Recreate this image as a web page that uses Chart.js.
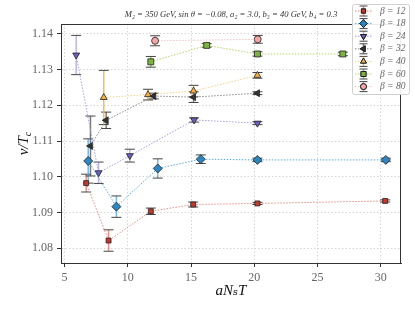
<!DOCTYPE html>
<html>
<head>
<meta charset="utf-8">
<script src="https://cdn.jsdelivr.net/npm/chart.js@4.4.0/dist/chart.umd.min.js"></script>
<style>
  html, body { margin: 0; padding: 0; background: #fff; }
  #wrap { width: 415px; height: 311px; }
</style>
</head>
<body>
<div id="wrap"><canvas id="chart" width="415" height="311"></canvas></div>
<script>
// ================= DATOS =================
const betaLabels = ['12', '18', '24', '32', '40', '60', '80'];

const x12 = [6.71, 8.48, 11.82, 15.17, 20.25, 30.35];
const y12 = [1.0982, 1.0821, 1.0903, 1.0922, 1.0925, 1.0932];
const e12 = [0.0025, 0.0030, 0.0009, 0.0007, 0.0003, 0.0003];

const x18 = [6.87, 9.10, 12.37, 15.77, 20.25, 30.40];
const y18 = [1.1044, 1.0916, 1.1023, 1.1049, 1.1047, 1.1047];
const e18 = [0.0062, 0.0030, 0.0027, 0.0012, 0.0005, 0.0005];

const x24 = [5.92, 7.69, 10.16, 15.24, 20.25];
const y24 = [1.1341, 1.1011, 1.1059, 1.1159, 1.1150];
const e24 = [0.0055, 0.0030, 0.0018, 0.0006, 0.0004];

const x32 = [7.05, 8.29, 12.06, 15.20, 20.25];
const y32 = [1.1086, 1.1158, 1.1226, 1.1223, 1.1234];
const e32 = [0.0084, 0.0023, 0.0008, 0.0015, 0.0004];

const x40 = [8.10, 11.60, 15.20, 20.25];
const y40 = [1.1222, 1.1230, 1.1240, 1.1284];
const e40 = [0.0076, 0.0015, 0.0016, 0.0008];

const x60 = [11.82, 16.24, 20.25, 27.00];
const y60 = [1.1322, 1.1368, 1.1344, 1.1344];
const e60 = [0.0015, 0.0005, 0.0006, 0.0005];

const x80 = [12.16, 20.27];
const y80 = [1.1381, 1.1385];
const e80 = [0.0014, 0.0011];

const xTicks = [5, 10, 15, 20, 25, 30];
const yTicks = [1.08, 1.09, 1.10, 1.11, 1.12, 1.13, 1.14];

// ================= ESTILOS =================
const series = [
  { x: x12, y: y12, e: e12, fill: '#c0392b', line: '#ee8a80', bar: 'rgba(231,100,90,0.7)', style: 'rect', rot: 0, r: 3.5 },
  { x: x18, y: y18, e: e18, fill: '#2e86c1', line: '#5dade2', bar: 'rgba(70,160,220,0.75)', style: 'rectRot', rot: 0, r: 4.5 },
  { x: x24, y: y24, e: e24, fill: '#6c5fc0', line: '#a99ee8', bar: 'rgba(160,150,220,0.7)', style: 'triangle', rot: 180, r: 4 },
  { x: x32, y: y32, e: e32, fill: '#333333', line: '#888888', bar: 'rgba(90,90,90,0.8)', style: 'triangle', rot: 270, r: 4 },
  { x: x40, y: y40, e: e40, fill: '#f5b041', line: '#f9cf8a', bar: 'rgba(245,176,65,0.85)', style: 'triangle', rot: 0, r: 4 },
  { x: x60, y: y60, e: e60, fill: '#7cb342', line: '#b5d56a', bar: 'rgba(124,179,66,0.8)', style: 'rect', rot: 0, r: 4.2 },
  { x: x80, y: y80, e: e80, fill: '#f4a6a6', line: '#f7c4c4', bar: 'rgba(240,150,150,0.8)', style: 'circle', rot: 0, r: 3.5 }
];

const serif = '"Liberation Serif", "DejaVu Serif", serif';

const datasets = series.map((s, i) => ({
  label: 'β = ' + betaLabels[i],
  data: s.x.map((v, k) => ({ x: v, y: s.y[k] })),
  errs: s.e,
  barColor: s.bar,
  showLine: true,
  borderColor: s.line,
  borderWidth: 1,
  borderDash: [1.5, 1.5],
  pointStyle: s.style,
  pointRotation: s.rot,
  pointRadius: s.r,
  pointBackgroundColor: s.fill,
  pointBorderColor: '#222',
  pointBorderWidth: 0.8,
  tension: 0
}));

// ================= PLUGINS =================
const errorBars = {
  id: 'errorBars',
  beforeDatasetsDraw(chart) {
    const ctx = chart.ctx;
    const xs = chart.scales.x, ys = chart.scales.y;
    ctx.save();
    chart.data.datasets.forEach(ds => {
      ds.data.forEach((p, k) => {
        const px = xs.getPixelForValue(p.x);
        const top = ys.getPixelForValue(p.y + ds.errs[k]);
        const bot = ys.getPixelForValue(p.y - ds.errs[k]);
        ctx.setLineDash([]);
        ctx.strokeStyle = ds.barColor;
        ctx.lineWidth = 1.5;
        ctx.beginPath(); ctx.moveTo(px, top); ctx.lineTo(px, bot); ctx.stroke();
        ctx.strokeStyle = '#444';
        ctx.lineWidth = 1;
        ctx.beginPath();
        ctx.moveTo(px - 5, top); ctx.lineTo(px + 5, top);
        ctx.moveTo(px - 5, bot); ctx.lineTo(px + 5, bot);
        ctx.stroke();
      });
    });
    ctx.restore();
  }
};

const decorations = {
  id: 'decorations',
  afterDraw(chart) {
    const ctx = chart.ctx;
    const a = chart.chartArea;
    ctx.save();
    // marco
    ctx.strokeStyle = '#333';
    ctx.lineWidth = 1;
    ctx.strokeRect(a.left + 0.5, a.top + 0.5, a.right - a.left - 1, a.bottom - a.top);

    // titulo
    ctx.fillStyle = '#333';
    ctx.font = 'italic 8.6px ' + serif;
    ctx.textAlign = 'center';
    ctx.textBaseline = 'middle';
    ctx.fillText('M₂ = 350 GeV, sin θ = −0.08, a₂ = 3.0, b₃ = 40 GeV, b₄ = 0.3', (a.left + a.right) / 2, 15);

    // etiqueta x
    ctx.fillStyle = '#111';
    ctx.font = 'italic 15px ' + serif;
    ctx.fillText('aNₛT', (a.left + a.right) / 2, 291);

    // etiqueta y
    ctx.save();
    ctx.translate(24, (a.top + a.bottom) / 2);
    ctx.rotate(-Math.PI / 2);
    ctx.textAlign = 'left';
    ctx.font = 'italic 15px ' + serif;
    const w1 = ctx.measureText('v/T').width;
    ctx.font = 'italic 10px ' + serif;
    const w2 = ctx.measureText('c').width;
    const sx = -(w1 + w2) / 2;
    ctx.font = 'italic 15px ' + serif;
    ctx.fillText('v/T', sx, 0);
    ctx.font = 'italic 10px ' + serif;
    ctx.fillText('c', sx + w1, 4);
    ctx.restore();

    // leyenda
    const lx = 352, ly = 4, lw = 57, lh = 90;
    ctx.fillStyle = 'rgba(255,255,255,0.9)';
    ctx.strokeStyle = '#d0d0d0';
    ctx.lineWidth = 1;
    ctx.beginPath();
    ctx.roundRect(lx + 0.5, ly + 0.5, lw, lh, 2);
    ctx.fill(); ctx.stroke();
    chart.data.datasets.forEach((ds, i) => {
      const cy = 11 + i * 12.6;
      const mx = 363.5;
      ctx.setLineDash([1.5, 1.5]);
      ctx.strokeStyle = ds.borderColor;
      ctx.beginPath(); ctx.moveTo(355, cy); ctx.lineTo(372, cy); ctx.stroke();
      ctx.setLineDash([]);
      ctx.strokeStyle = ds.barColor;
      ctx.lineWidth = 1.5;
      ctx.beginPath(); ctx.moveTo(mx, cy - 5); ctx.lineTo(mx, cy + 5); ctx.stroke();
      ctx.strokeStyle = '#444';
      ctx.lineWidth = 1;
      ctx.beginPath();
      ctx.moveTo(mx - 4, cy - 5); ctx.lineTo(mx + 4, cy - 5);
      ctx.moveTo(mx - 4, cy + 5); ctx.lineTo(mx + 4, cy + 5);
      ctx.stroke();
      Chart.helpers.drawPoint(ctx, {
        pointStyle: ds.pointStyle, rotation: ds.pointRotation,
        radius: ds.pointRadius * 0.85, borderWidth: 0.8
      }, mx, cy);
      ctx.fillStyle = ds.pointBackgroundColor;
      ctx.strokeStyle = '#222';
      ctx.fill(); ctx.stroke();
      ctx.fillStyle = '#666';
      ctx.font = 'italic 9.5px ' + serif;
      ctx.textAlign = 'left';
      ctx.textBaseline = 'middle';
      ctx.fillText(ds.label, 380, cy);
    });
    ctx.restore();
  }
};

// ================= GRÁFICO =================
new Chart(document.getElementById('chart'), {
  type: 'scatter',
  data: { datasets },
  options: {
    responsive: false,
    animation: false,
    layout: { padding: { left: 0, top: 24, right: 14, bottom: 0 } },
    plugins: { legend: { display: false }, tooltip: { enabled: false } },
    scales: {
      x: {
        type: 'linear', min: 4.72, max: 31.6,
        afterBuildTicks: s => { s.ticks = xTicks.map(v => ({ value: v })); },
        afterFit: s => { s.height = 48; },
        grid: { color: '#d6d6d6', tickColor: '#333', tickLength: 4, tickBorderDash: [1, 0] },
        border: { display: true, color: '#333', dash: [1.5, 2] },
        ticks: { color: '#666', font: { family: serif, size: 12 }, padding: 4 }
      },
      y: {
        type: 'linear', min: 1.0758, max: 1.1428,
        afterBuildTicks: s => { s.ticks = yTicks.map(v => ({ value: v })); },
        afterFit: s => { s.width = 61; },
        grid: { color: '#d6d6d6', tickColor: '#333', tickLength: 4, tickBorderDash: [1, 0] },
        border: { display: true, color: '#333', dash: [1.5, 2] },
        ticks: { color: '#666', font: { family: serif, size: 12 }, padding: 4, callback: v => v.toFixed(2) }
      }
    }
  },
  plugins: [errorBars, decorations]
});
</script>
</body>
</html>
